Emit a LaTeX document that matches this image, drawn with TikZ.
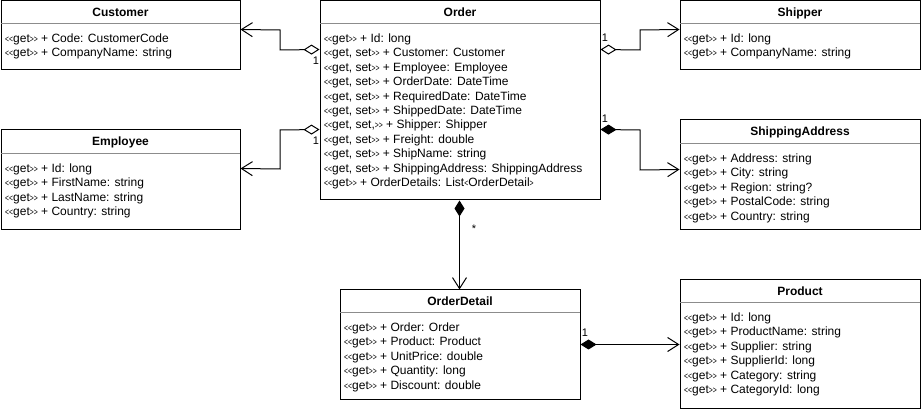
\documentclass[tikz,border=0pt]{standalone}
\usepackage{fontspec}
\setmainfont{Liberation Sans}
\usepackage{graphicx}
\usetikzlibrary{arrows.meta,fit}
\newcommand\LTb{\scalebox{0.72}[1]{\fontsize{9.5}{9.5}\selectfont<}}
\newcommand\GTb{\scalebox{0.72}[1]{\fontsize{9.5}{9.5}\selectfont>}}
\newcommand\Gg{\LTb\LTb get\GTb\GTb}
\newcommand\Gs{\LTb\LTb get, set\GTb\GTb}
\tikzset{
  boxshape/.style={draw, line width=1pt, inner sep=0pt},
  ttl/.style={font=\fontsize{12}{14.4}\selectfont\bfseries, inner sep=0pt, anchor=base},
  attrs/.style={font=\fontsize{12}{14.4}\selectfont, align=left, anchor=north west, inner sep=0pt},
  sepline/.style={draw=black!45, line width=1pt},
  lnk/.style={line width=1pt},
  agg/.style={lnk, {Diamond[open,length=16pt,width=10pt]}-{Straight Barb[length=11pt,width=14pt]}},
  comp/.style={lnk, {Diamond[length=16pt,width=10pt]}-{Straight Barb[length=11pt,width=14pt]}},
  mult/.style={font=\fontsize{11}{12}\selectfont, inner sep=0pt}
}
% name, x1, y1, x2, y2, header y, title, rows
\newcommand\umlclass[8]{%
  \coordinate (#1-nw) at (#2,#3);
  \coordinate (#1-se) at (#4,#5);
  \node[boxshape, fit=(#1-nw)(#1-se)] (#1) {};
  \node[ttl] (#1-t) at ({(#2+#4)/2}, {(#3+#6)/2+3.8}) {#7};
  \draw[sepline] (#2,#6) -- (#4,#6);
  \node[attrs] (#1-a) at (#2+4, #6+8.2) {#8};
}
\begin{document}
\begin{tikzpicture}[x=1pt,y=-1pt]
\useasboundingbox (0,0) rectangle (921,411);

\umlclass{customer}{1}{1}{240}{70}{24}{Customer}{%
\strut\Gg{} + Code: CustomerCode\\
\strut\Gg{} + CompanyName: string}

\umlclass{order}{320}{1}{600}{200}{24}{Order}{%
\strut\Gg{} + Id: long\\
\strut\Gs{} + Customer: Customer\\
\strut\Gs{} + Employee: Employee\\
\strut\Gs{} + OrderDate: DateTime\\
\strut\Gs{} + RequiredDate: DateTime\\
\strut\Gs{} + ShippedDate: DateTime\\
\strut\LTb\LTb get, set,\GTb\GTb{} + Shipper: Shipper\\
\strut\Gs{} + Freight: double\\
\strut\Gs{} + ShipName: string\\
\strut\Gs{} + ShippingAddress: ShippingAddress\\
\strut\Gg{} + OrderDetails: List\LTb OrderDetail\GTb}

\umlclass{shipper}{680}{1}{920}{70}{24}{Shipper}{%
\strut\Gg{} + Id: long\\
\strut\Gg{} + CompanyName: string}

\umlclass{employee}{1}{130}{240}{230}{154}{Employee}{%
\strut\Gg{} + Id: long\\
\strut\Gg{} + FirstName: string\\
\strut\Gg{} + LastName: string\\
\strut\Gg{} + Country: string}

\umlclass{shipaddr}{680}{120}{920}{230}{144}{ShippingAddress}{%
\strut\Gg{} + Address: string\\
\strut\Gg{} + City: string\\
\strut\Gg{} + Region: string?\\
\strut\Gg{} + PostalCode: string\\
\strut\Gg{} + Country: string}

\umlclass{orderdetail}{340}{290}{580}{400}{313}{OrderDetail}{%
\strut\Gg{} + Order: Order\\
\strut\Gg{} + Product: Product\\
\strut\Gg{} + UnitPrice: double\\
\strut\Gg{} + Quantity: long\\
\strut\Gg{} + Discount: double}

\umlclass{product}{680}{280}{920}{409}{303}{Product}{%
\strut\Gg{} + Id: long\\
\strut\Gg{} + ProductName: string\\
\strut\Gg{} + Supplier: string\\
\strut\Gg{} + SupplierId: long\\
\strut\Gg{} + Category: string\\
\strut\Gg{} + CategoryId: long}

% connectors
\draw[agg] ([yshift=-49pt]order.north west) -- (280,50) -- (280,30) -- ([yshift=-29pt]customer.north east);
\draw[agg] ([yshift=-129pt]order.north west) -- (280,130) -- (280,169) -- ([yshift=-39pt]employee.north east);
\draw[agg] ([yshift=-49pt]order.north east) -- (640,50) -- (640,30) -- ([yshift=-29pt]shipper.north west);
\draw[comp] ([yshift=-129pt]order.north east) -- (640,130) -- (640,170) -- ([yshift=-50pt]shipaddr.north west);
\draw[comp] ([xshift=140pt]order.south west) -- ([xshift=120pt]orderdetail.north west);
\draw[comp] ([yshift=-55pt]orderdetail.north east) -- ([yshift=-65pt]product.north west);

% multiplicities
\node[mult] (m1) at (316,61) {1};
\node[mult] (m2) at (316,141) {1};
\node[mult] (m3) at (605,38) {1};
\node[mult] (m4) at (605,119) {1};
\node[mult] (m5) at (474,229) {*};
\node[mult] (m6) at (585,333) {1};
\end{tikzpicture}
\end{document}
